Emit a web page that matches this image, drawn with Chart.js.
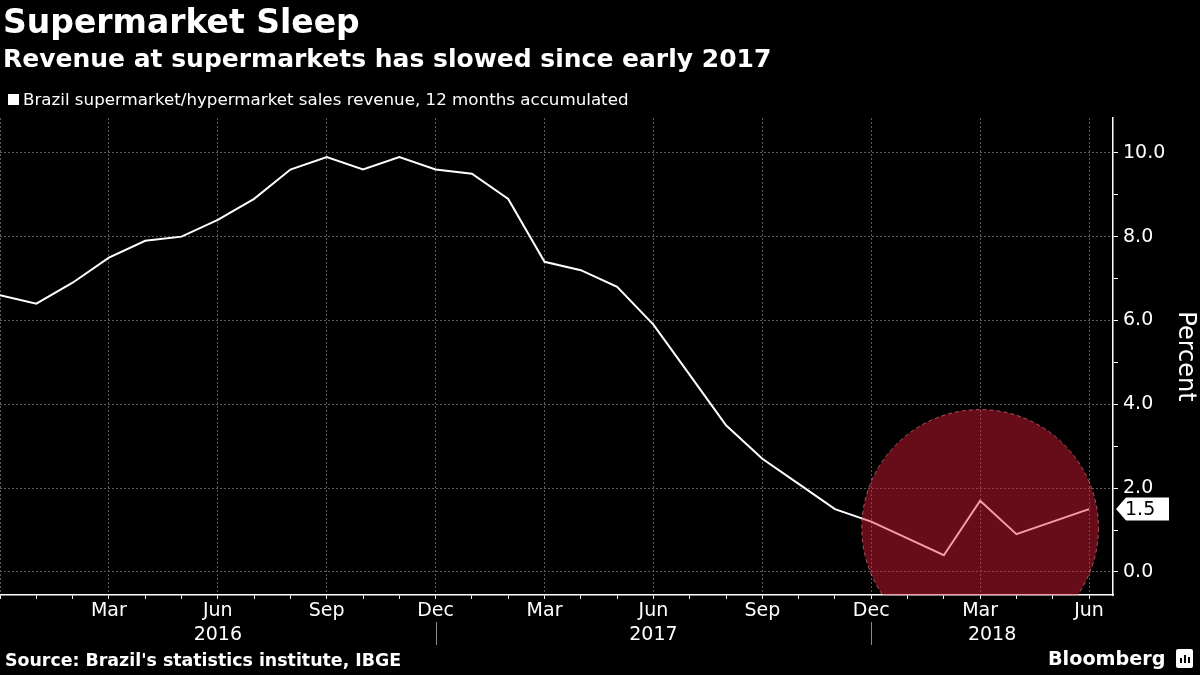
<!DOCTYPE html>
<html lang="en">
<head>
<meta charset="UTF-8">
<title>Supermarket Sleep</title>
<script src="https://cdn.jsdelivr.net/npm/chart.js"></script>
<style>
    body {
        margin: 0;
        background: #000;
        width: 1200px;
        height: 675px;
        overflow: hidden;
        position: relative;
        font-family: "DejaVu Sans", sans-serif;
        color: #fff;
    }
    #chart { position: absolute; left: 0; top: 0; }
    .title { position: absolute; left: 3px; top: 2px; font-size: 33px; font-weight: bold; }
    .subtitle { position: absolute; left: 3px; top: 44px; font-size: 25px; font-weight: bold; }
    .legend { position: absolute; left: 8px; top: 89px; font-size: 16.7px; }
    .legend span.box { display: inline-block; width: 11px; height: 11px; background: #fff; margin-right: 4px; }
    .source { position: absolute; left: 5px; top: 650px; font-size: 17.4px; font-weight: bold; }
    .logo { position: absolute; left: 1048px; top: 647px; font-size: 19.2px; font-weight: bold; }
    .logo .icon {
        display: inline-block; position: relative; width: 17px; height: 19px; background: #fff;
        border-radius: 2px; margin-left: 10px; vertical-align: -3px;
    }
    .logo .icon i { position: absolute; bottom: 5px; width: 2px; background: #000; }
</style>
</head>
<body>
<canvas id="chart" width="1200" height="675"></canvas>
<div class="title">Supermarket Sleep</div>
<div class="subtitle">Revenue at supermarkets has slowed since early 2017</div>
<div class="legend"><span class="box"></span>Brazil supermarket/hypermarket sales revenue, 12 months accumulated</div>
<div class="source">Source: Brazil's statistics institute, IBGE</div>
<div class="logo">Bloomberg<span class="icon"><i style="left:4px;height:5px"></i><i style="left:8px;height:8px"></i><i style="left:12px;height:6px"></i></span></div>

<script>
// monthly, Dec 2015 .. Jun 2018
const months = ['Dec','Jan','Feb','Mar','Apr','May','Jun','Jul','Aug','Sep','Oct','Nov',
                'Dec','Jan','Feb','Mar','Apr','May','Jun','Jul','Aug','Sep','Oct','Nov',
                'Dec','Jan','Feb','Mar','Apr','May','Jun'];
const revenue = [6.6,6.4,6.9,7.5,7.9,8.0,8.4,8.9,9.6,9.9,9.6,9.9,
                 9.6,9.5,8.9,7.4,7.2,6.8,5.9,4.7,3.5,2.7,2.1,1.5,
                 1.2,0.8,0.4,1.7,0.9,1.2,1.5];
const yTicks = [0, 2, 4, 6, 8, 10];
const yearLabels = ['2016', '2017', '2018'];

// highlight circle around the 2018 rebound (month index, value, radius in months)
const highlight = { month: 27, value: 1.05, radius: 3.26 };

const quarterly = ['Mar', 'Jun', 'Sep', 'Dec'];
const FONT = '"DejaVu Sans", sans-serif';

const extras = {
    id: 'extras',
    afterDatasetsDraw(chart) {
        const { ctx, chartArea, scales } = chart;
        const cx = scales.x.getPixelForValue(highlight.month);
        const cy = scales.y.getPixelForValue(highlight.value);
        const r = scales.x.getPixelForValue(highlight.month + highlight.radius) - cx;
        ctx.save();
        ctx.beginPath();
        ctx.rect(chartArea.left, chartArea.top, chartArea.right - chartArea.left, chartArea.bottom - chartArea.top);
        ctx.clip();
        ctx.beginPath();
        ctx.arc(cx, cy, r, 0, Math.PI * 2);
        ctx.fillStyle = 'rgba(235, 30, 58, 0.44)';
        ctx.fill();
        ctx.setLineDash([4, 3]);
        ctx.lineWidth = 1;
        ctx.strokeStyle = 'rgba(255, 130, 150, 0.6)';
        ctx.stroke();
        ctx.restore();
    },
    afterDraw(chart) {
        const { ctx, chartArea, scales } = chart;
        ctx.save();
        // year separators under Dec ticks, year labels centred between them
        ctx.strokeStyle = '#8a8a8a';
        ctx.lineWidth = 1;
        const bounds = [scales.x.min];
        months.forEach((m, i) => {
            if (i > 0 && m === 'Dec') {
                bounds.push(i);
                const x = Math.round(scales.x.getPixelForValue(i)) + 0.5;
                ctx.beginPath();
                ctx.moveTo(x, chartArea.bottom + 27);
                ctx.lineTo(x, chartArea.bottom + 50);
                ctx.stroke();
            }
        });
        bounds.push(scales.x.max);
        ctx.fillStyle = '#fff';
        ctx.font = '19px ' + FONT;
        ctx.textAlign = 'center';
        ctx.textBaseline = 'middle';
        yearLabels.forEach((yr, k) => {
            const xa = scales.x.getPixelForValue(bounds[k]);
            const xb = scales.x.getPixelForValue(bounds[k + 1]);
            ctx.fillText(yr, (xa + xb) / 2, chartArea.bottom + 40);
        });
        // last value tag
        const last = revenue[revenue.length - 1];
        const y = scales.y.getPixelForValue(last);
        const x0 = chartArea.right + 3;
        ctx.fillStyle = '#fff';
        ctx.beginPath();
        ctx.moveTo(x0, y);
        ctx.lineTo(x0 + 10, y - 11.5);
        ctx.lineTo(x0 + 53, y - 11.5);
        ctx.lineTo(x0 + 53, y + 11.5);
        ctx.lineTo(x0 + 10, y + 11.5);
        ctx.closePath();
        ctx.fill();
        ctx.fillStyle = '#000';
        ctx.textAlign = 'left';
        ctx.fillText(last.toFixed(1), x0 + 9, y + 1);
        ctx.restore();
    }
};

new Chart(document.getElementById('chart'), {
    type: 'line',
    data: {
        datasets: [{
            data: revenue.map((v, i) => ({ x: i, y: v })),
            borderColor: '#fff',
            borderWidth: 2,
            pointRadius: 0,
            tension: 0
        }]
    },
    options: {
        responsive: false,
        animation: false,
        layout: { padding: { top: 118, left: 0, right: 0, bottom: 0 } },
        plugins: { legend: { display: false }, tooltip: { enabled: false } },
        scales: {
            x: {
                type: 'linear',
                min: 0,
                max: 30.66,
                afterFit: s => { s.height = 80; },
                border: { color: '#fff', width: 1.5, dash: [2, 2] },
                grid: {
                    color: c => (c.tick && quarterly.includes(months[c.tick.value])) ? '#5a5a5a' : 'transparent',
                    tickColor: '#fff',
                    tickLength: 4,
                    lineWidth: 1
                },
                ticks: {
                    stepSize: 1,
                    includeBounds: false,
                    autoSkip: false,
                    maxRotation: 0,
                    padding: 0,
                    color: '#fff',
                    font: { family: FONT, size: 19, lineHeight: 1.3 },
                    callback: v => (v === 0 || !quarterly.includes(months[v])) ? '' : months[v]
                }
            },
            y: {
                position: 'right',
                min: -0.55,
                max: 10.83,
                afterFit: s => { s.width = 87; },
                border: { color: '#fff', width: 1.5, dash: [2, 2] },
                grid: {
                    color: c => (c.tick && yTicks.includes(c.tick.value)) ? '#5a5a5a' : 'transparent',
                    tickColor: '#fff',
                    tickLength: 5
                },
                ticks: {
                    stepSize: 1,
                    includeBounds: false,
                    padding: 5,
                    color: '#fff',
                    font: { family: FONT, size: 19 },
                    callback: v => yTicks.includes(v) ? v.toFixed(1) : ''
                },
                title: {
                    display: true,
                    text: 'Percent',
                    color: '#fff',
                    font: { family: FONT, size: 24 },
                    padding: { top: 0, bottom: 2 }
                }
            }
        }
    },
    plugins: [extras]
});
</script>
</body>
</html>
